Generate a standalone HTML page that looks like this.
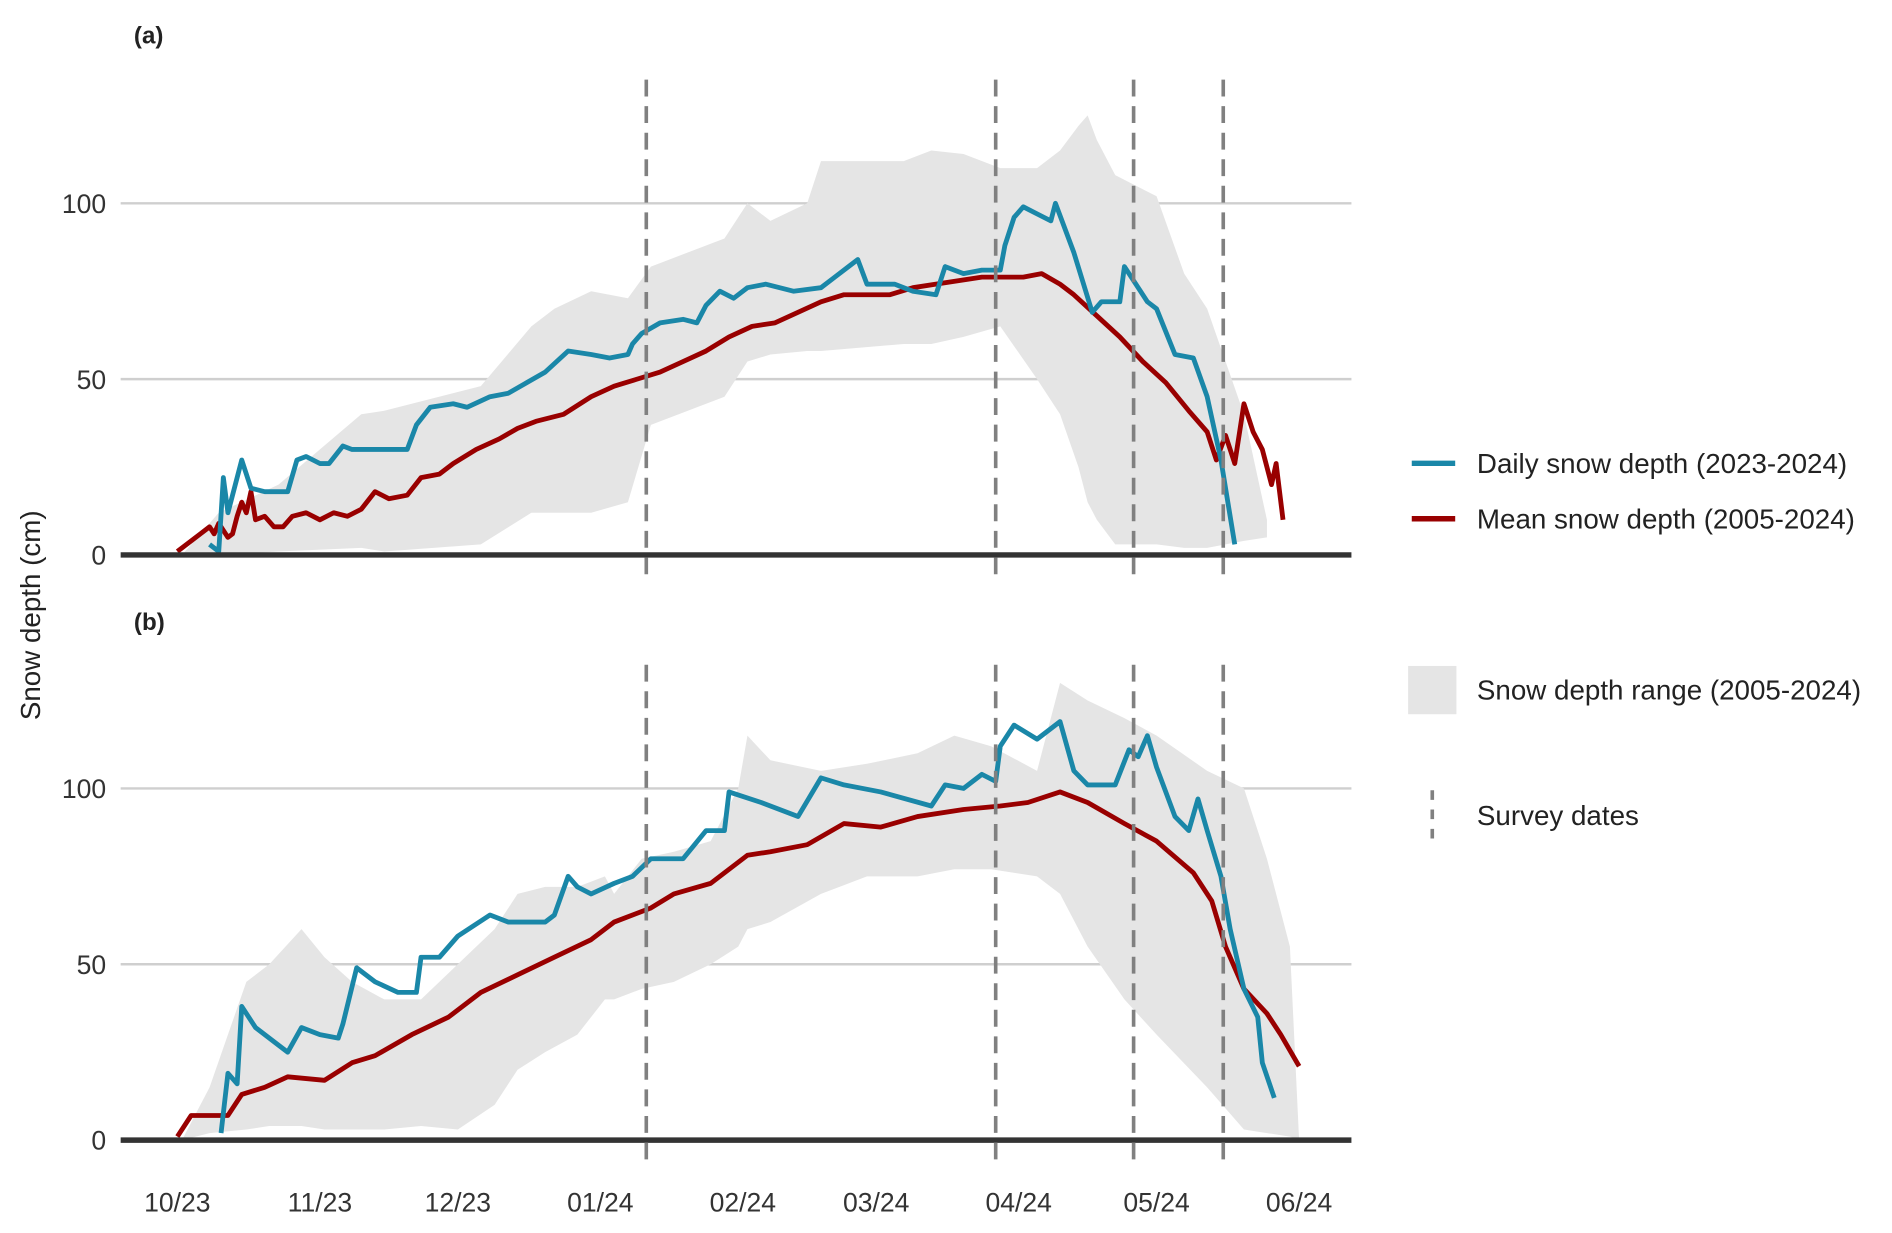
<!DOCTYPE html>
<html><head><meta charset="utf-8"><style>
html,body{margin:0;padding:0;background:#fff}
svg{display:block;font-family:"Liberation Sans",Arial,sans-serif}
</style></head><body>
<svg id="c" width="1892" height="1233" viewBox="0 0 1568 1022" preserveAspectRatio="none">
<text x="111" y="36" font-size="20" font-weight="bold" fill="#222">(a)</text>
<text x="111" y="522" font-size="20" font-weight="bold" fill="#222">(b)</text>
<text transform="translate(33,510) rotate(-90)" text-anchor="middle" font-size="23" fill="#222">Snow depth (cm)</text>
<g>
<line x1="1170" y1="384" x2="1206" y2="384" stroke="#1a87a8" stroke-width="4.5"/>
<text x="1224" y="392" font-size="23" fill="#222">Daily snow depth (2023-2024)</text>
<line x1="1170" y1="430" x2="1206" y2="430" stroke="#990000" stroke-width="4.5"/>
<text x="1224" y="438" font-size="23" fill="#222">Mean snow depth (2005-2024)</text>
<rect x="1167" y="552" width="40" height="40" fill="#e5e5e5"/>
<text x="1224" y="580" font-size="23" fill="#222">Snow depth range (2005-2024)</text>
<line x1="1187" y1="655" x2="1187" y2="698" stroke="#808080" stroke-width="3" stroke-dasharray="8 8"/>
<text x="1224" y="684" font-size="23" fill="#222">Survey dates</text>
</g>
</svg>
<script>
// x-axis ticks (days since 1 Oct 2023)
const tickDays=[0,31,61,92,123,152,183,213,244];
const tickLabels=["10/23","11/23","12/23","01/24","02/24","03/24","04/24","05/24","06/24"];
const yTicks=[0,50,100];
const surveyDays=[102,178,208,227.5];
// Panel a
const aDailyDays=[7,9,10,11,14,16,19,24,26,28,31,33,36,38,40,50,52,55,60,63,68,72,76,80,85,90,94,98,99,101,105,110,113,115,118,121,124,128,134,140,143,146,148,150,156,160,165,167,171,175,179,180,182,184,187,190,191,195,199,201,205,206,209,211,213,217,221,224,227,230];
const aDaily=[3,1,22,12,27,19,18,18,27,28,26,26,31,30,30,30,37,42,43,42,45,46,49,52,58,57,56,57,60,63,66,67,66,71,75,73,76,77,75,76,79,82,84,77,77,75,74,82,80,81,81,88,96,99,97,95,100,86,69,72,72,82,76,72,70,57,56,45,27,3];
const aMeanDays=[0,5,7,8,9,11,12,13,14,15,16,17,19,21,23,25,28,31,34,37,40,43,46,50,53,57,60,65,70,74,78,84,90,95,100,105,110,115,120,125,130,135,140,145,150,155,160,165,170,175,180,184,188,192,195,200,205,210,215,220,224,226,228,230,232,234,236,238,239,240.5];
const aMean=[1,6,8,6,9,5,6,11,15,12,18,10,11,8,8,11,12,10,12,11,13,18,16,17,22,23,26,30,33,36,38,40,45,48,50,52,55,58,62,65,66,69,72,74,74,74,76,77,78,79,79,79,80,77,74,68,62,55,49,41,35,27,34,26,43,35,30,20,26,10];
const aRangeDays=[1,9,22,40,45,66,77,82,90,98,103,119,124,129,137,140,158,164,171,179,187,192,196,198,200,204,213,219,224,232,237];
const aMax=[0,12,20,40,41,48,65,70,75,73,82,90,100,95,100,112,112,115,114,110,110,115,122,125,118,108,102,80,70,40,10];
const aMin=[0,0,1,2,1,3,12,12,12,15,37,45,55,57,58,58,60,60,62,65,50,40,25,15,10,3,3,2,2,4,5];
// Panel b
const bDailyDays=[9.5,11,13,14,17,22,24,27,31,35,36,39,43,48,52,53,57,61,68,72,80,82,85,87,90,95,99,103,110,115,119,120,127,135,140,145,153,164,167,171,175,178,179,182,187,192,195,198,204,207,209,211,213,217,220,222,224,227,229,232,235,236,238.6];
const bDaily=[2,19,16,38,32,27,25,32,30,29,33,49,45,42,42,52,52,58,64,62,62,64,75,72,70,73,75,80,80,88,88,99,96,92,103,101,99,95,101,100,104,102,112,118,114,119,105,101,101,111,109,115,106,92,88,97,88,75,60,43,35,22,12];
const bMeanDays=[0,3,7,11,14,19,24,32,38,43,51,59,66,74,82,90,95,103,108,116,124,129,137,145,153,161,171,179,185,192,198,206,213,221,225,228,232,237,240,244];
const bMean=[1,7,7,7,13,15,18,17,22,24,30,35,42,47,52,57,62,66,70,73,81,82,84,90,89,92,94,95,96,99,96,90,85,76,68,55,43,36,30,21];
const bRangeDays=[1,7,15,20,27,32,38,45,53,61,69,74,80,87,93,95,101,108,116,122,124,129,140,150,161,169,177,187,192,198,206,213,224,232,237,242,244];
const bMax=[0,15,45,50,60,52,45,40,40,50,60,70,72,72,75,70,80,82,85,100,115,108,105,107,110,115,112,105,130,125,120,115,105,100,80,55,0];
const bMin=[0,2,3,4,4,3,3,3,4,3,10,20,25,30,40,40,43,45,50,55,60,62,70,75,75,77,77,75,70,55,40,30,15,3,2,1,0];

const NS="http://www.w3.org/2000/svg";
const svg=document.getElementById('c');
const X=d=>147+d*3.81;
function yScale(base){return v=>base-v*2.915;}
function mk(tag,attrs){const e=document.createElementNS(NS,tag);for(const k in attrs)e.setAttribute(k,attrs[k]);return e;}
function panel(name,base,top,rDays,rMax,rMin,mDays,mVals,dDays,dVals){
  const Y=yScale(base);
  const g=mk('g',{});
  
  
  svg.appendChild(g);
  yTicks.forEach(t=>{
    if(t>0){const l=mk('line',{x1:100,x2:1120,y1:Y(t),y2:Y(t),stroke:'#cfcfcf','stroke-width':2});
      
      
      g.appendChild(l);}
    const tx=mk('text',{x:88,y:Y(t)+8,'text-anchor':'end','font-size':22,fill:'#333'});
    tx.textContent=t;
    
    
    g.appendChild(tx);
  });
  let p='M'+rDays.map((d,i)=>X(d)+','+Y(rMax[i])).join(' L');
  for(let i=rDays.length-1;i>=0;i--)p+=' L'+X(rDays[i])+','+Y(rMin[i]);
  const area=mk('path',{d:p+'Z',fill:'#e5e5e5'});
  
  
  g.appendChild(area);
  const ml=mk('path',{d:'M'+mDays.map((d,i)=>X(d)+','+Y(mVals[i])).join(' L'),fill:'none',stroke:'#990000','stroke-width':4,'stroke-linejoin':'round'});
  
  
  g.appendChild(ml);
  const dl=mk('path',{d:'M'+dDays.map((d,i)=>X(d)+','+Y(dVals[i])).join(' L'),fill:'none',stroke:'#1a87a8','stroke-width':4,'stroke-linejoin':'round'});
  
  
  g.appendChild(dl);
  const ax=mk('line',{x1:100,x2:1120,y1:base,y2:base,stroke:'#333','stroke-width':4.5});
  
  
  g.appendChild(ax);
  surveyDays.forEach(d=>{
    const s=mk('line',{x1:X(d),x2:X(d),y1:top,y2:base+18,stroke:'#808080','stroke-width':3,'stroke-dasharray':'14 8'});
    
    
    g.appendChild(s);
  });
}
panel('panel-a',460,66,aRangeDays,aMax,aMin,aMeanDays,aMean,aDailyDays,aDaily);
panel('panel-b',945,551,bRangeDays,bMax,bMin,bMeanDays,bMean,bDailyDays,bDaily);
tickDays.forEach((d,i)=>{
  const t=mk('text',{x:X(d),y:1004,'text-anchor':'middle','font-size':22,fill:'#333'});
  t.textContent=tickLabels[i];
  
  
  svg.appendChild(t);
});
</script>
</body></html>
